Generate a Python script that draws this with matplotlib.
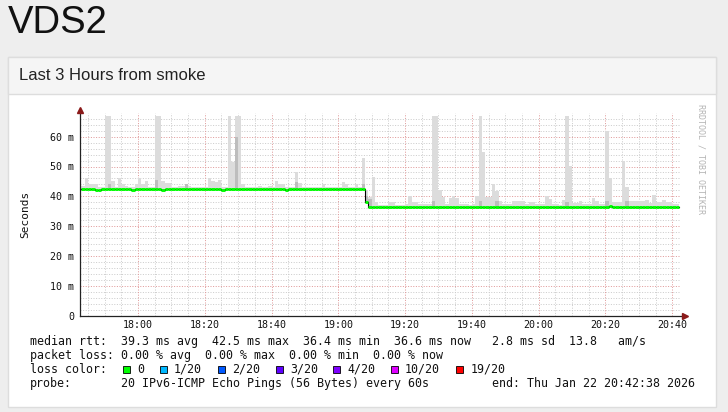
import matplotlib
matplotlib.use('Agg')
import matplotlib.pyplot as plt
from matplotlib.patches import Rectangle

# --- data (minutes since 17:00, one bin per minute starting 17:43) ---
start_min = 43
median_rtt = [42.5, 42.5, 42.5, 42.5, 42.2, 42.2, 42.5, 42.5, 42.5, 42.5,
              42.5, 42.5, 42.5, 42.5, 42.5, 42.2, 42.5, 42.5, 42.5, 42.5,
              42.5, 42.5, 42.5, 42.5, 42.2, 42.5, 42.5, 42.5, 42.5, 42.5,
              42.5, 42.5, 42.5, 42.5, 42.5, 42.5, 42.5, 42.5, 42.5, 42.5,
              42.5, 42.5, 42.2, 42.5, 42.5, 42.5, 42.5, 42.5, 42.5, 42.5,
              42.5, 42.5, 42.5, 42.5, 42.5, 42.5, 42.5, 42.5, 42.5, 42.5,
              42.5, 42.2, 42.5, 42.5, 42.5, 42.5, 42.5, 42.5, 42.5, 42.5,
              42.5, 42.5, 42.5, 42.5, 42.5, 42.5, 42.5, 42.5, 42.5, 42.5,
              42.5, 42.5, 42.5, 42.5, 42.5, 38.0, 36.6, 36.6, 36.6, 36.6,
              36.6, 36.6, 36.6, 36.6, 36.6, 36.6, 36.6, 36.6, 36.6, 36.6,
              36.6, 36.6, 36.6, 36.6, 36.6, 36.6, 36.6, 36.6, 36.6, 36.6,
              36.6, 36.6, 36.6, 36.6, 36.6, 36.6, 36.6, 36.6, 36.6, 36.6,
              36.6, 36.6, 36.6, 36.6, 36.6, 36.6, 36.6, 36.6, 36.6, 36.6,
              36.6, 36.6, 36.6, 36.6, 36.6, 36.6, 36.6, 36.6, 36.6, 36.6,
              36.6, 36.6, 36.6, 36.6, 36.6, 36.6, 36.6, 36.6, 36.6, 36.6,
              36.6, 36.6, 36.6, 36.6, 36.6, 36.6, 36.6, 36.6, 36.8, 36.6,
              36.6, 36.6, 36.6, 36.6, 36.6, 36.6, 36.6, 36.6, 36.6, 36.6,
              36.6, 36.6, 36.6, 36.6, 36.6, 36.6, 36.6, 36.6, 36.6]
smoke_top = [43.5, 46.0, 44.3, 44.3, 44.0, 43.0, 43.0, 67.0, 67.0, 45.0,
             43.0, 46.0, 44.0, 43.5, 43.0, 43.0, 44.0, 46.0, 44.0, 45.3,
             43.0, 43.0, 67.0, 67.0, 45.0, 44.5, 44.5, 43.0, 43.0, 43.5,
             43.5, 44.0, 43.5, 43.0, 43.0, 43.0, 43.0, 43.0, 46.0, 45.0,
             44.7, 45.5, 43.0, 43.0, 67.0, 51.5, 67.0, 67.0, 44.0, 43.0,
             43.0, 43.0, 43.0, 43.6, 43.0, 43.0, 43.6, 43.0, 45.0, 44.0,
             44.0, 43.0, 43.3, 43.3, 48.0, 44.5, 43.0, 43.3, 43.3, 43.3,
             43.0, 43.0, 44.0, 43.0, 43.0, 43.0, 43.0, 43.0, 44.7, 44.0,
             43.0, 43.0, 44.0, 43.0, 53.0, 42.0, 39.7, 46.6, 38.0, 37.2,
             37.2, 37.2, 38.0, 38.0, 37.2, 37.2, 37.2, 37.5, 40.0, 38.2,
             38.0, 37.4, 37.4, 37.4, 37.4, 67.0, 67.0, 42.0, 39.7, 37.4,
             39.5, 40.0, 39.5, 37.4, 37.4, 37.4, 37.0, 37.4, 40.0, 67.0,
             55.0, 39.7, 39.7, 44.0, 41.7, 38.3, 37.5, 37.5, 37.5, 38.6,
             38.6, 38.6, 38.6, 37.5, 38.0, 38.0, 37.3, 37.3, 37.3, 40.3,
             39.0, 37.5, 37.5, 37.2, 38.8, 67.0, 50.0, 37.8, 37.8, 38.4,
             37.3, 37.3, 37.3, 39.5, 38.6, 37.3, 37.3, 61.8, 46.0, 38.0,
             38.0, 38.0, 52.0, 43.0, 38.4, 38.3, 38.3, 38.3, 38.3, 38.8,
             37.8, 40.6, 38.0, 38.0, 38.8, 38.0, 38.0, 37.5, 37.5]
dark_bins = [8, 22, 31, 46, 64, 84, 85, 86, 105, 119, 124, 145, 157, 163]
dark_top = [44.0, 45.5, 44.0, 60.0, 44.7, 44.0, 40.0, 39.0, 38.5, 38.5, 38.5, 38.0, 38.3, 38.3]

x_ticks = [60, 80, 100, 120, 140, 160, 180, 200, 220]
x_labels = ['18:00', '18:20', '18:40', '19:00', '19:20', '19:40', '20:00', '20:20', '20:40']
y_ticks = [0, 10, 20, 30, 40, 50, 60]
y_labels = ['0', '10 m', '20 m', '30 m', '40 m', '50 m', '60 m']

loss_labels = ['0', '1/20', '2/20', '3/20', '4/20', '10/20', '19/20']
loss_colors = ['#00ff00', '#00b8ff', '#0059ff', '#5e00ff', '#7e00ff', '#dd00ff', '#ff0000']

W, H = 728, 412
MONO = 'DejaVu Sans Mono'

fig = plt.figure(figsize=(W / 100, H / 100), dpi=100)
fig.patch.set_facecolor('#eeeeee')


def fx(x):
    return x / W


def fy(y):
    return 1 - y / H


# page panel (behind the axes)
fig.patches.append(Rectangle((fx(8), fy(407)), 708 / W, 350 / H, transform=fig.transFigure,
                             facecolor='white', edgecolor='#dddddd', lw=1, zorder=-5))
fig.patches.append(Rectangle((fx(8), fy(94)), 708 / W, 37 / H, transform=fig.transFigure,
                             facecolor='#f5f5f5', edgecolor='#dddddd', lw=1, zorder=-4))
fig.text(fx(8), fy(33), 'VDS2', fontsize=27.5, family=['Liberation Sans', 'DejaVu Sans'],
         color='#111111', va='baseline')
fig.text(fx(19), fy(80.5), 'Last 3 Hours from smoke', fontsize=12,
         family=['Liberation Sans', 'DejaVu Sans'], color='#222222', va='baseline')

# plot area
x0, x1 = 42.633, 222.633
y_top = (316 - 112.7) / 2.99
ax = fig.add_axes([fx(80), fy(316), 601 / W, (316 - 112.7) / H])
ax.set_facecolor('white')
ax.set_xlim(x0, x1)
ax.set_ylim(0, y_top)
for s in ax.spines.values():
    s.set_visible(False)

# grid: light dotted minor lines, pinkish dotted major lines
dot = (0, (1, 1.6))
for m in range(45, 223, 5):
    if m % 20 != 0:
        ax.axvline(m, color='#cccccc', lw=0.72, ls=dot, zorder=0, snap=True)
for v in range(2, 68, 2):
    if v % 10 != 0:
        ax.axhline(v, color='#cccccc', lw=0.72, ls=dot, zorder=0, snap=True)
for m in x_ticks:
    ax.axvline(m, color='#e09a9a', lw=0.72, ls=dot, zorder=0, snap=True)
for v in y_ticks[1:]:
    ax.axhline(v, color='#e09a9a', lw=0.72, ls=dot, zorder=0, snap=True)

# smoke
lefts = [start_min + i for i in range(len(smoke_top))]
ax.bar(lefts, [t - m for t, m in zip(smoke_top, median_rtt)], bottom=median_rtt,
       width=1, align='edge', color='#dcdcdc', lw=0, zorder=2)
ax.bar([start_min + i for i in dark_bins], [t - median_rtt[i] for i, t in zip(dark_bins, dark_top)],
       bottom=[median_rtt[i] for i in dark_bins], width=1, align='edge',
       color='#bdbdbd', lw=0, zorder=2)

# median line
edges = lefts + [lefts[-1] + 1]
ax.step(edges, median_rtt + [median_rtt[-1]], where='post', color='black', lw=0.8, zorder=3)
ax.hlines(median_rtt, lefts, [l + 1 for l in lefts], color='#00ff00', lw=2.1, zorder=4)

# axes with arrows
ax.plot([x0, x0], [0, 68.6], color='#222222', lw=0.9, clip_on=False, zorder=5)
ax.plot([x0, 223.2], [0, 0], color='#222222', lw=0.9, clip_on=False, zorder=5)
ax.plot([x0], [68.9], marker='^', ms=4.5, color='#8b1a1a', clip_on=False, zorder=6)
ax.plot([223.9], [0], marker='>', ms=4.5, color='#8b1a1a', clip_on=False, zorder=6)

ax.set_xticks(x_ticks)
ax.set_xticklabels(x_labels, family=MONO, fontsize=7.2)
ax.set_yticks(y_ticks)
ax.set_yticklabels(y_labels, family=MONO, fontsize=7.2)
ax.tick_params(axis='both', length=0, colors='#111111')
ax.tick_params(axis='x', pad=3.2)
ax.tick_params(axis='y', pad=4.3)

fig.text(fx(25), fy(214), 'Seconds', rotation=90, family=MONO, fontsize=8,
         ha='center', va='center', color='#111111')
fig.text(fx(701), fy(104), 'RRDTOOL / TOBI OETIKER', rotation=270, family=MONO, fontsize=6,
         ha='center', va='top', color='#b4b4b4')

# legend
row_y = [345.2, 359.0, 372.8, 386.6]
row1 = [('median rtt:  39.3 ms avg  42.5 ms max  36.4 ms min  36.6 ms now   2.8 ms sd  13.8   am/s', 30)]
row2 = [('packet loss: 0.00 % avg  0.00 % max  0.00 % min  0.00 % now', 30)]
row4 = [('probe:', 30), ('20 IPv6-ICMP Echo Pings (56 Bytes) every 60s', 121),
        ('end: Thu Jan 22 20:42:38 2026', 492)]
for row, yy in [(row1, row_y[0]), (row2, row_y[1]), (row4, row_y[3])]:
    for txt, xx in row:
        fig.text(fx(xx), fy(yy), txt, family=MONO, fontsize=8.4, va='baseline', color='#111111')

fig.text(fx(30), fy(row_y[2]), 'loss color:', family=MONO, fontsize=8.4, va='baseline', color='#111111')
box_x = [122.5, 160, 218, 276, 333, 391, 456]
lab_x = [137, 174, 232, 290, 347, 405, 471]
for lab, col, bx, lx in zip(loss_labels, loss_colors, box_x, lab_x):
    fig.patches.append(Rectangle((fx(bx), fy(373)), 7 / W, 7 / H, transform=fig.transFigure,
                                 facecolor=col, edgecolor='black', lw=0.6))
    fig.text(fx(lx), fy(row_y[2]), lab, family=MONO, fontsize=8.4, va='baseline', color='#111111')

fig.savefig('out.png', dpi=100, facecolor=fig.get_facecolor())
